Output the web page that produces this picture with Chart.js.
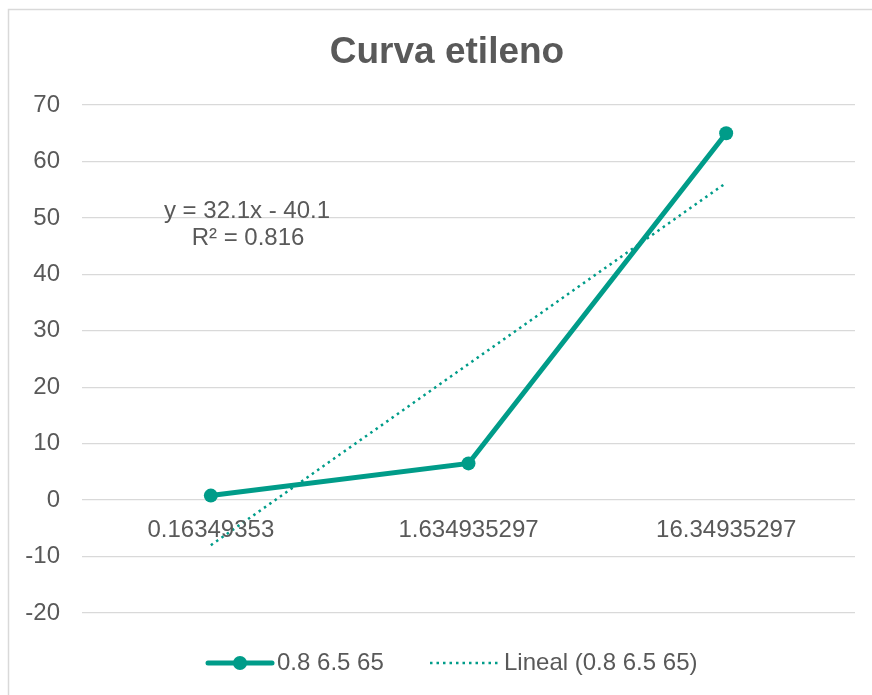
<!DOCTYPE html>
<html>
<head>
<meta charset="utf-8">
<script src="https://cdn.jsdelivr.net/npm/chart.js@4/dist/chart.umd.min.js"></script>
<style>
html,body{margin:0;padding:0;background:#fff;}
#wrap{position:relative;width:872px;height:695px;}
canvas{display:block;}
</style>
</head>
<body>
<div id="wrap"><canvas id="c" width="872" height="695"></canvas></div>
<script>
const categories = ["0.16349353", "1.634935297", "16.34935297"];
const seriesValues = [0.8, 6.5, 65];
const trendValues = [-8.0, 24.1, 56.2]; // y = 32.1x - 40.1 at x = 1,2,3
const yTicks = [-20, -10, 0, 10, 20, 30, 40, 50, 60, 70];
const seriesName = "0.8 6.5 65";
const trendName = "Lineal (0.8 6.5 65)";
const titleText = "Curva etileno";
const equationText = ["y = 32.1x - 40.1", "R\u00b2 = 0.816"];

const TEAL = "#009C89";
const TXT = "#595959";
const FONT = "'Liberation Sans', Arial, sans-serif";

const overlay = {
  id: "overlay",
  beforeDraw(chart) {
    const ctx = chart.ctx;
    ctx.save();
    ctx.fillStyle = "#fff";
    ctx.fillRect(0, 0, chart.width, chart.height);
    ctx.strokeStyle = "#d9d9d9";
    ctx.lineWidth = 1.5;
    ctx.beginPath();
    ctx.moveTo(8.5, 800);
    ctx.lineTo(8.5, 9.5);
    ctx.lineTo(900, 9.5);
    ctx.stroke();
    // title
    ctx.fillStyle = TXT;
    ctx.font = "bold 37px " + FONT;
    ctx.textAlign = "center";
    ctx.textBaseline = "middle";
    ctx.fillText(titleText, 447, 53);
    ctx.restore();
  },
  afterDatasetsDraw(chart) {
    const ctx = chart.ctx;
    const xs = chart.scales.x, ys = chart.scales.y;
    ctx.save();
    // category labels next to the zero line
    ctx.fillStyle = TXT;
    ctx.font = "24px " + FONT;
    ctx.textAlign = "center";
    ctx.textBaseline = "middle";
    const y0 = ys.getPixelForValue(0);
    categories.forEach((c, i) => {
      ctx.fillText(c, xs.getPixelForValue(i), y0 + 30);
    });
    // equation
    ctx.textBaseline = "alphabetic";
    ctx.fillText(equationText[0], 247, 218);
    ctx.fillText(equationText[1], 248, 245);
    ctx.textBaseline = "middle";
    // legend
    const ly = 663;
    ctx.strokeStyle = TEAL;
    ctx.lineWidth = 5;
    ctx.lineCap = "round";
    ctx.beginPath();
    ctx.moveTo(208, ly); ctx.lineTo(272, ly);
    ctx.stroke();
    ctx.fillStyle = TEAL;
    ctx.beginPath();
    ctx.arc(240, ly, 7, 0, Math.PI * 2);
    ctx.fill();
    ctx.fillStyle = TXT;
    ctx.textAlign = "left";
    ctx.fillText(seriesName, 277, ly);
    ctx.strokeStyle = TEAL;
    ctx.lineWidth = 2.5;
    ctx.lineCap = "butt";
    ctx.setLineDash([2.5, 4]);
    ctx.beginPath();
    ctx.moveTo(430, ly); ctx.lineTo(498, ly);
    ctx.stroke();
    ctx.setLineDash([]);
    ctx.fillText(trendName, 504, ly);
    ctx.restore();
  }
};

new Chart(document.getElementById("c"), {
  type: "line",
  data: {
    labels: categories,
    datasets: [
      {
        label: trendName,
        data: trendValues,
        borderColor: TEAL,
        borderWidth: 2.5,
        borderDash: [2.5, 4],
        pointRadius: 0,
        fill: false,
        order: 2
      },
      {
        label: seriesName,
        data: seriesValues,
        borderColor: TEAL,
        backgroundColor: TEAL,
        borderWidth: 5,
        pointRadius: 7,
        pointBackgroundColor: TEAL,
        pointBorderWidth: 0,
        fill: false,
        order: 1
      }
    ]
  },
  options: {
    responsive: false,
    animation: false,
    layout: { padding: { left: 0, right: 17, top: 105, bottom: 82 } },
    plugins: {
      legend: { display: false },
      tooltip: { enabled: false },
      title: { display: false }
    },
    scales: {
      x: {
        display: false,
        offset: true
      },
      y: {
        min: -20,
        max: 70,
        afterBuildTicks(scale) {
          scale.ticks = yTicks.map(v => ({ value: v }));
        },
        afterFit(scale) { scale.width = 82; },
        border: { display: false },
        grid: { color: "#d9d9d9", lineWidth: 1.3, drawTicks: false },
        ticks: {
          color: TXT,
          font: { family: FONT, size: 24 },
          padding: 22
        }
      }
    }
  },
  plugins: [overlay]
});
</script>
</body>
</html>
